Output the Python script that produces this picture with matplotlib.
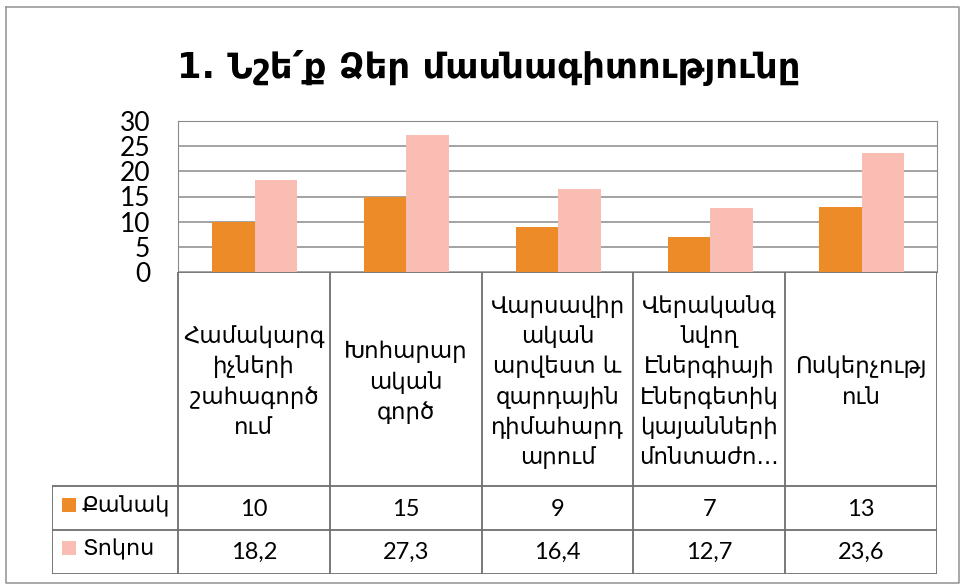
import matplotlib
matplotlib.use("Agg")
import matplotlib.pyplot as plt
from matplotlib.patches import Rectangle

# data
categories = [
    "Համակարգ\nիչների\nշահագործ\nում",
    "Խոհարար\nական\nգործ",
    "Վարսավիր\nական\nարվեստ և\nզարդային\nդիմահարդ\nարում",
    "Վերականգ\nնվող\nԷներգիայի\nԷներգետիկ\nկայանների\nմոնտաժո...",
    "Ոսկերչությ\nուն",
]
series_names = ["Քանակ", "Տոկոս"]
count = [10, 15, 9, 7, 13]
percent = [18.2, 27.3, 16.4, 12.7, 23.6]
count_labels = ["10", "15", "9", "7", "13"]
percent_labels = ["18,2", "27,3", "16,4", "12,7", "23,6"]
yticks = [0, 5, 10, 15, 20, 25, 30]

ORANGE = "#EC8B27"
PINK = "#F9BDB4"
GRID = "#8a8a8a"

plt.rcParams['font.family'] = ['Lato', 'DejaVu Sans']

W, H = 961, 587
fig = plt.figure(figsize=(W / 100, H / 100), dpi=100)


def fbox(x0, y0, x1, y1):
    # pixel box (top-left origin) -> figure rect
    return [x0 / W, 1 - y1 / H, (x1 - x0) / W, (y1 - y0) / H]


# outer chart border
border = fig.add_axes([0, 0, 1, 1])
border.set_xlim(0, W)
border.set_ylim(H, 0)
border.axis("off")
border.plot([6, 6, 959, 959, 6], [7, 583, 583, 7, 7], color="#9a9a9a", lw=1.2)

fig.text(489 / W, 1 - 68 / H, "1. Նշե՛ք Ձեր մասնագիտությունը",
         ha="center", va="center", fontsize=25.5, fontweight="bold",
         family=['DejaVu Sans'])

# bars
x0, x1 = 178, 937
ax = fig.add_axes(fbox(x0, 121, x1, 272))
n = len(categories)
w = 0.28
xs = [i + 0.505 for i in range(n)]
ax.bar([x - w / 2 for x in xs], count, width=w, color=ORANGE, zorder=3)
ax.bar([x + w / 2 for x in xs], percent, width=w, color=PINK, zorder=3)
ax.set_xlim(0, n)
ax.set_ylim(0, 30)
ax.set_yticks(yticks)
ax.set_yticklabels([str(t) for t in yticks], fontsize=19)
ax.tick_params(axis="y", length=0, pad=20)
ax.set_xticks([])
ax.grid(axis="y", color=GRID, lw=1.1, zorder=0)
for s in ["left", "top", "right"]:
    ax.spines[s].set_color(GRID)
ax.spines["bottom"].set_visible(False)

# data table
colw = (x1 - x0) / n
left_edge = -(x0 - 52) / colw
tab = fig.add_axes(fbox(52, 272, x1, 574))
tab.set_xlim(left_edge, n)
tab.set_ylim(574, 272)
tab.axis("off")
row_lines = [486, 530, 574]
line_kw = dict(color="#6e6e6e", lw=1.3)
tab.plot([0, n], [272, 272], **line_kw)
for y in row_lines:
    tab.plot([left_edge, n], [y, y], **line_kw)
for i in range(n + 1):
    tab.plot([i, i], [272, 574], **line_kw)
tab.plot([left_edge, left_edge], [486, 574], **line_kw)

for i, cat in enumerate(categories):
    tab.text(i + 0.5, 382, cat, ha="center", va="center", fontsize=16.5,
             linespacing=1.4, family=['DejaVu Sans'])
    tab.text(i + 0.5, 509, count_labels[i], ha="center", va="center", fontsize=17)
    tab.text(i + 0.5, 552, percent_labels[i], ha="center", va="center", fontsize=17)

sq = 14 / colw
for name, color, yc in [(series_names[0], ORANGE, 505), (series_names[1], PINK, 548)]:
    tab.add_patch(Rectangle((left_edge + 10 / colw, yc - 7), sq, 14,
                            color=color, lw=0))
    tab.text(left_edge + 30 / colw, yc + 1, name, ha="left", va="center",
             fontsize=16, family=['DejaVu Sans'])

fig.savefig("out.png", dpi=100)
